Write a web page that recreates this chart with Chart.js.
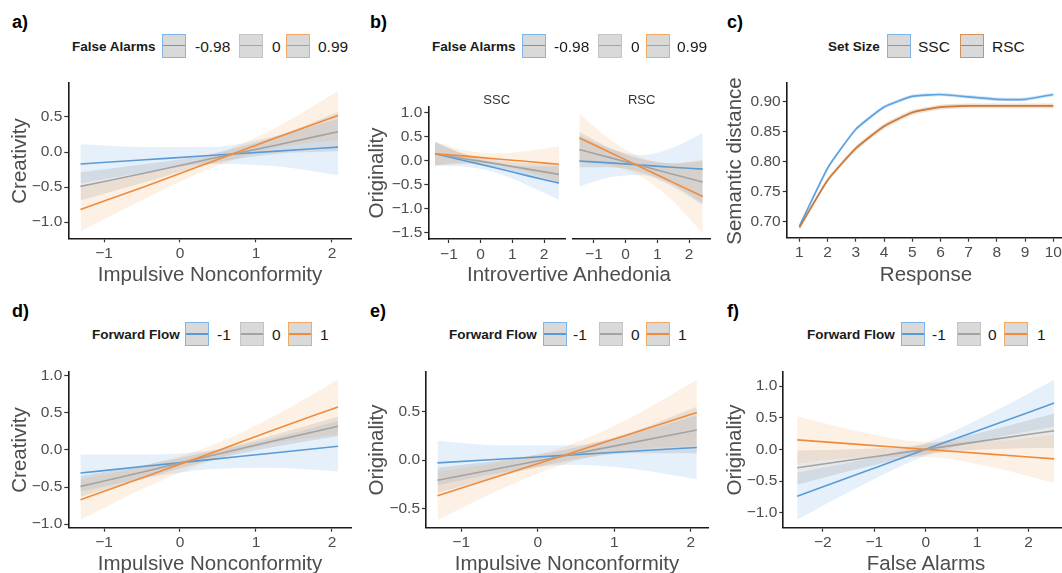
<!DOCTYPE html>
<html>
<head>
<meta charset="utf-8">
<script src="https://cdn.jsdelivr.net/npm/chart.js@4.4.0/dist/chart.umd.min.js"></script>
<style>
  body { margin: 0; background: #fff; }
  #fig { position: relative; width: 1062px; height: 573px; overflow: hidden; font-family: "Liberation Sans", Arial, sans-serif; }
  .cv { position: absolute; }
  .txt { position: absolute; white-space: nowrap; line-height: 1; color: #1a1a1a; }
  .key { position: absolute; width: 24px; height: 24px; box-sizing: border-box; border: 1.5px solid; background: #d9d9d9; }
  .keyline { position: absolute; left: 0; right: 0; top: 50%; height: 1.6px; margin-top: -0.8px; }
</style>
</head>
<body>
<div id="fig"></div>
<script>
// ---- donnees ----
const M = "\u2212";

// a) Creativity ~ Impulsive Nonconformity x False Alarms
const aX = [-1.31, -0.46, 0.39, 1.23, 2.08];
const aBlueFit = [-0.17, -0.11, -0.05, 0.01, 0.07];
const aBlueLo = [-0.45, -0.29, -0.17, -0.2, -0.33];
const aBlueHi = [0.11, 0.07, 0.07, 0.22, 0.47];
const aGrayFit = [-0.49, -0.3, -0.1, 0.09, 0.29];
const aGrayLo = [-0.69, -0.43, -0.17, -0.03, 0.01];
const aGrayHi = [-0.29, -0.17, -0.03, 0.21, 0.57];
const aOrangeFit = [-0.82, -0.49, -0.15, 0.19, 0.52];
const aOrangeLo = [-1.13, -0.67, -0.24, 0.05, 0.17];
const aOrangeHi = [-0.51, -0.31, -0.06, 0.33, 0.87];

// b) Originality ~ Introvertive Anhedonia, facettes SSC / RSC
const bSscX = [-1.44, -0.46, 0.52, 1.49, 2.47];
const bSscBlueFit = [0.15, 0.0, -0.15, -0.31, -0.46];
const bSscBlueLo = [-0.1, -0.12, -0.25, -0.51, -0.81];
const bSscBlueHi = [0.4, 0.12, -0.05, -0.11, -0.11];
const bSscGrayFit = [0.15, 0.04, -0.06, -0.17, -0.28];
const bSscGrayLo = [-0.09, -0.06, -0.14, -0.29, -0.48];
const bSscGrayHi = [0.39, 0.14, 0.02, -0.05, -0.08];
const bSscOrangeFit = [0.15, 0.1, 0.04, -0.01, -0.07];
const bSscOrangeLo = [-0.1, -0.02, -0.08, -0.23, -0.44];
const bSscOrangeHi = [0.4, 0.22, 0.16, 0.21, 0.3];

const bRscX = [-1.46, -0.49, 0.49, 1.46, 2.43];
const bRscBlueFit = [0.0, -0.04, -0.085, -0.13, -0.17];
const bRscBlueLo = [-0.53, -0.34, -0.29, -0.53, -0.92];
const bRscBlueHi = [0.53, 0.26, 0.12, 0.27, 0.58];
const bRscGrayFit = [0.24, 0.07, -0.1, -0.27, -0.44];
const bRscGrayLo = [-0.13, -0.13, -0.24, -0.49, -0.88];
const bRscGrayHi = [0.61, 0.27, 0.04, -0.05, 0.0];
const bRscOrangeFit = [0.48, 0.175, -0.13, -0.435, -0.74];
const bRscOrangeLo = [-0.03, -0.095, -0.33, -0.815, -1.51];
const bRscOrangeHi = [0.99, 0.445, 0.07, -0.055, 0.03];

// c) Semantic distance ~ Response
const cX = [1, 2, 3, 4, 5, 6, 7, 8, 9, 10];
const cSsc = [0.692, 0.789, 0.854, 0.891, 0.909, 0.912, 0.908, 0.904, 0.904, 0.912];
const cSscLo = [0.689, 0.786, 0.851, 0.888, 0.906, 0.909, 0.905, 0.901, 0.901, 0.909];
const cSscHi = [0.695, 0.792, 0.857, 0.894, 0.912, 0.915, 0.911, 0.907, 0.907, 0.915];
const cRsc = [0.69, 0.769, 0.822, 0.859, 0.882, 0.891, 0.893, 0.893, 0.893, 0.893];
const cRscLo = [0.686, 0.765, 0.818, 0.855, 0.878, 0.887, 0.889, 0.889, 0.889, 0.889];
const cRscHi = [0.694, 0.773, 0.826, 0.863, 0.886, 0.895, 0.897, 0.897, 0.897, 0.897];

// d) Creativity ~ Impulsive Nonconformity x Forward Flow
const dX = [-1.31, -0.46, 0.39, 1.23, 2.08];
const dBlueFit = [-0.31, -0.22, -0.13, -0.04, 0.05];
const dBlueLo = [-0.56, -0.38, -0.26, -0.24, -0.29];
const dBlueHi = [-0.06, -0.06, -0.01, 0.16, 0.39];
const dGrayFit = [-0.49, -0.29, -0.08, 0.12, 0.32];
const dGrayLo = [-0.63, -0.38, -0.14, 0.04, 0.19];
const dGrayHi = [-0.35, -0.2, -0.02, 0.2, 0.45];
const dOrangeFit = [-0.67, -0.36, -0.05, 0.27, 0.58];
const dOrangeLo = [-0.94, -0.51, -0.15, 0.09, 0.21];
const dOrangeHi = [-0.4, -0.21, 0.05, 0.45, 0.95];

// e) Originality ~ Impulsive Nonconformity x Forward Flow
const eX = [-1.31, -0.46, 0.39, 1.23, 2.08];
const eBlueFit = [-0.03, 0.01, 0.05, 0.09, 0.13];
const eBlueLo = [-0.26, -0.13, -0.05, -0.09, -0.2];
const eBlueHi = [0.2, 0.15, 0.15, 0.27, 0.46];
const eGrayFit = [-0.21, -0.08, 0.05, 0.18, 0.31];
const eGrayLo = [-0.34, -0.16, -0.01, 0.07, 0.07];
const eGrayHi = [-0.08, 0.0, 0.11, 0.29, 0.55];
const eOrangeFit = [-0.37, -0.155, 0.06, 0.275, 0.49];
const eOrangeLo = [-0.62, -0.295, -0.03, 0.105, 0.15];
const eOrangeHi = [-0.12, -0.015, 0.15, 0.445, 0.83];

// f) Originality ~ False Alarms x Forward Flow
const fX = [-2.5, -1.25, 0, 1.25, 2.5];
const fBlueFit = [-0.74, -0.37, 0.0, 0.365, 0.73];
const fBlueLo = [-1.11, -0.57, -0.1, 0.165, 0.36];
const fBlueHi = [-0.37, -0.17, 0.1, 0.565, 1.1];
const fGrayFit = [-0.29, -0.145, 0.0, 0.15, 0.295];
const fGrayLo = [-0.56, -0.295, -0.08, 0.0, 0.025];
const fGrayHi = [-0.02, 0.005, 0.08, 0.3, 0.565];
const fOrangeFit = [0.15, 0.075, 0.0, -0.075, -0.15];
const fOrangeLo = [-0.22, -0.125, -0.12, -0.275, -0.53];
const fOrangeHi = [0.52, 0.275, 0.12, 0.125, 0.23];

// graduations
const ticksUnit = [-1, 0, 1, 2];
const labelsUnit = [M + "1", "0", "1", "2"];
const aYTicks = [-1, -0.5, 0, 0.5];
const aYLabels = [M + "1.0", M + "0.5", "0.0", "0.5"];
const bYTicks = [-1.5, -1, -0.5, 0, 0.5, 1];
const bYLabels = [M + "1.5", M + "1.0", M + "0.5", "0.0", "0.5", "1.0"];
const cXTicks = [1, 2, 3, 4, 5, 6, 7, 8, 9, 10];
const cXLabels = ["1", "2", "3", "4", "5", "6", "7", "8", "9", "10"];
const cYTicks = [0.7, 0.75, 0.8, 0.85, 0.9];
const cYLabels = ["0.70", "0.75", "0.80", "0.85", "0.90"];
const dfYTicks = [-1, -0.5, 0, 0.5, 1];
const dfYLabels = [M + "1.0", M + "0.5", "0.0", "0.5", "1.0"];
const eYTicks = [-0.5, 0, 0.5];
const eYLabels = [M + "0.5", "0.0", "0.5"];
const fXTicks = [-2, -1, 0, 1, 2];
const fXLabels = [M + "2", M + "1", "0", "1", "2"];

// legendes
const falseAlarmLevels = ["-0.98", "0", "0.99"];
const forwardFlowLevels = ["-1", "0", "1"];
const setSizeLevels = ["SSC", "RSC"];

// ---- couleurs ----
const BLUE = "#5b9bd5", GRAY = "#a3a3a3", ORANGE = "#ef8b3b";
const BLUE_BAND = "rgba(91,160,222,0.16)";
const GRAY_BAND = "rgba(120,120,120,0.17)";
const ORANGE_BAND = "rgba(242,150,70,0.14)";
const C_BLUE = "#5ca4e2", C_BROWN = "#c9793a";
const KEY_BLUE = "#7cb6ea", KEY_GRAY = "#c4c4c4", KEY_ORANGE = "#f3a964", KEY_BROWN = "#d4915a";
const FONT = '"Liberation Sans", Arial, sans-serif';

const fig = document.getElementById("fig");

function pts(xs, ys) {
  return xs.map((x, i) => ({ x: x, y: ys[i] }));
}

function axe(min, max, ticks, labels, show, size, horizontal) {
  return {
    type: "linear",
    display: show,
    min: min,
    max: max,
    afterBuildTicks: (sc) => { sc.ticks = ticks.map((v) => ({ value: v })); },
    afterFit: (sc) => { if (horizontal) sc.height = size; else sc.width = size; },
    ticks: { callback: (v, i) => labels[i], color: "#4d4d4d", font: { family: FONT, size: 15.5 }, padding: 2, maxRotation: 0, autoSkip: false },
    grid: { drawOnChartArea: false, drawTicks: true, tickLength: 4, tickColor: "#333", tickWidth: 1.2 },
    border: { display: show, color: "#1a1a1a", width: 1.6 }
  };
}

function graphe(g) {
  const showY = g.showY !== false;
  const cx = Math.round(g.L) - 56, cy = Math.round(g.T) - 20;
  const cv = document.createElement("canvas");
  cv.className = "cv";
  cv.width = Math.round(g.R) + 16 - cx;
  cv.height = Math.round(g.B) + 26 - cy;
  cv.style.left = cx + "px";
  cv.style.top = cy + "px";
  fig.appendChild(cv);

  const mode = g.tension ? "default" : "monotone";
  const tension = g.tension || 0;
  const datasets = [];
  g.series.forEach((s) => {
    datasets.push({ data: pts(g.xs, s.hi), borderWidth: 0, borderColor: "transparent", pointRadius: 0, fill: false, order: 2, cubicInterpolationMode: mode, tension: tension });
    datasets.push({ data: pts(g.xs, s.lo), borderWidth: 0, borderColor: "transparent", pointRadius: 0, fill: "-1", backgroundColor: s.band, order: 2, cubicInterpolationMode: mode, tension: tension });
  });
  g.series.forEach((s) => {
    datasets.push({ data: pts(g.xs, s.fit), borderColor: s.color, borderWidth: g.lw || 1.6, pointRadius: 0, fill: false, order: 1, cubicInterpolationMode: mode, tension: tension });
  });

  new Chart(cv, {
    type: "line",
    data: { datasets: datasets },
    options: {
      responsive: false,
      animation: false,
      events: [],
      layout: { padding: { left: 0, top: g.T - cy, right: cv.width - (g.R - cx), bottom: 0 } },
      plugins: { legend: { display: false }, tooltip: { enabled: false } },
      scales: {
        x: axe(g.xmin, g.xmax, g.xticks, g.xlabels, true, cv.height - (g.B - cy), true),
        y: axe(g.ymin, g.ymax, g.yticks, g.ylabels, showY, g.L - cx, false)
      }
    }
  });
}

function texte(t, x, y, css) {
  const d = document.createElement("div");
  d.className = "txt";
  d.textContent = t;
  d.style.left = x + "px";
  d.style.top = y + "px";
  Object.assign(d.style, css || {});
  fig.appendChild(d);
  return d;
}

function titreX(t, x, y) {
  texte(t, x, y, { fontSize: "20.5px", color: "#4d4d4d", transform: "translate(-50%,-50%)" });
}
function titreY(t, x, y) {
  texte(t, x, y, { fontSize: "20.5px", color: "#4d4d4d", transform: "translate(-50%,-50%) rotate(-90deg)" });
}
function lettre(t, x, y) {
  texte(t, x, y, { fontSize: "18px", fontWeight: "bold", color: "#000" });
}

function legende(titre, labels, lignes, bords, y, xTitre, xCles, xLabels) {
  texte(titre, xTitre, y + 1, { fontSize: "13.5px", fontWeight: "bold", transform: "translateY(-50%)" });
  labels.forEach((lab, i) => {
    const k = document.createElement("div");
    k.className = "key";
    k.style.left = xCles[i] + "px";
    k.style.top = (y - 12) + "px";
    k.style.borderColor = bords[i];
    const l = document.createElement("div");
    l.className = "keyline";
    l.style.background = lignes[i];
    k.appendChild(l);
    fig.appendChild(k);
    texte(lab, xLabels[i], y + 1, { fontSize: "15.5px", transform: "translateY(-50%)" });
  });
}

function trois(fitB, loB, hiB, fitG, loG, hiG, fitO, loO, hiO) {
  return [
    { fit: fitO, lo: loO, hi: hiO, color: ORANGE, band: ORANGE_BAND },
    { fit: fitG, lo: loG, hi: hiG, color: GRAY, band: GRAY_BAND },
    { fit: fitB, lo: loB, hi: hiB, color: BLUE, band: BLUE_BAND }
  ];
}

// a)
graphe({ L: 68.3, R: 351.7, T: 83.3, B: 238.3, xmin: -1.47, xmax: 2.26, ymin: -1.23, ymax: 0.98,
  xticks: ticksUnit, xlabels: labelsUnit, yticks: aYTicks, ylabels: aYLabels, xs: aX,
  series: trois(aBlueFit, aBlueLo, aBlueHi, aGrayFit, aGrayLo, aGrayHi, aOrangeFit, aOrangeLo, aOrangeHi) });

// b) SSC
graphe({ L: 428.3, R: 565, T: 106.7, B: 239, xmin: -1.65, xmax: 2.66, ymin: -1.625, ymax: 1.13,
  xticks: ticksUnit, xlabels: labelsUnit, yticks: bYTicks, ylabels: bYLabels, xs: bSscX,
  series: trois(bSscBlueFit, bSscBlueLo, bSscBlueHi, bSscGrayFit, bSscGrayLo, bSscGrayHi, bSscOrangeFit, bSscOrangeLo, bSscOrangeHi) });
// b) RSC
graphe({ L: 573.3, R: 710, T: 106.7, B: 239, xmin: -1.65, xmax: 2.66, ymin: -1.625, ymax: 1.13, showY: false,
  xticks: ticksUnit, xlabels: labelsUnit, yticks: bYTicks, ylabels: bYLabels, xs: bRscX,
  series: trois(bRscBlueFit, bRscBlueLo, bRscBlueHi, bRscGrayFit, bRscGrayLo, bRscGrayHi, bRscOrangeFit, bRscOrangeLo, bRscOrangeHi) });

// c)
graphe({ L: 786.7, R: 1066, T: 83.3, B: 237.7, xmin: 0.55, xmax: 10.45, ymin: 0.673, ymax: 0.9307,
  xticks: cXTicks, xlabels: cXLabels, yticks: cYTicks, ylabels: cYLabels, xs: cX, lw: 1.7, tension: 0.15,
  series: [
    { fit: cRsc, lo: cRscLo, hi: cRscHi, color: C_BROWN, band: "rgba(201,121,58,0.25)" },
    { fit: cSsc, lo: cSscLo, hi: cSscHi, color: C_BLUE, band: "rgba(92,164,226,0.25)" }
  ] });

// d)
graphe({ L: 68.3, R: 351.7, T: 371.7, B: 527.7, xmin: -1.47, xmax: 2.26, ymin: -1.047, ymax: 1.055,
  xticks: ticksUnit, xlabels: labelsUnit, yticks: dfYTicks, ylabels: dfYLabels, xs: dX,
  series: trois(dBlueFit, dBlueLo, dBlueHi, dGrayFit, dGrayLo, dGrayHi, dOrangeFit, dOrangeLo, dOrangeHi) });

// e)
graphe({ L: 426, R: 708.3, T: 371.7, B: 527.7, xmin: -1.46, xmax: 2.23, ymin: -0.7, ymax: 0.913,
  xticks: ticksUnit, xlabels: labelsUnit, yticks: eYTicks, ylabels: eYLabels, xs: eX,
  series: trois(eBlueFit, eBlueLo, eBlueHi, eGrayFit, eGrayLo, eGrayHi, eOrangeFit, eOrangeLo, eOrangeHi) });

// f)
graphe({ L: 783.3, R: 1068.1, T: 371.7, B: 527.7, xmin: -2.77, xmax: 2.77, ymin: -1.237, ymax: 1.226,
  xticks: fXTicks, xlabels: fXLabels, yticks: dfYTicks, ylabels: dfYLabels, xs: fX,
  series: trois(fBlueFit, fBlueLo, fBlueHi, fGrayFit, fGrayLo, fGrayHi, fOrangeFit, fOrangeLo, fOrangeHi) });

// lettres des panneaux
lettre("a)", 12, 13);
lettre("b)", 370, 13);
lettre("c)", 727, 13);
lettre("d)", 12, 302);
lettre("e)", 370, 302);
lettre("f)", 727, 302);

// titres des axes
titreY("Creativity", 19.2, 160.8);
titreX("Impulsive Nonconformity", 210, 274.2);
titreY("Originality", 375.8, 173);
titreX("Introvertive Anhedonia", 569, 274.2);
titreY("Semantic distance", 734.2, 160.5);
titreX("Response", 926, 274.2);
titreY("Creativity", 19.2, 449.7);
titreX("Impulsive Nonconformity", 210, 562.5);
titreY("Originality", 375.8, 449.7);
titreX("Impulsive Nonconformity", 567, 562.5);
titreY("Originality", 734.2, 449.7);
titreX("False Alarms", 926, 562.5);

// bandeaux des facettes
texte("SSC", 496.7, 99, { fontSize: "13px", color: "#333", transform: "translate(-50%,-50%)" });
texte("RSC", 641.7, 99, { fontSize: "13px", color: "#333", transform: "translate(-50%,-50%)" });

// legendes
const lignes3 = [BLUE, GRAY, ORANGE];
const bords3 = [KEY_BLUE, KEY_GRAY, KEY_ORANGE];
legende("False Alarms", falseAlarmLevels, lignes3, bords3, 45.5, 72, [162, 239, 286], [195, 272, 318]);
legende("False Alarms", falseAlarmLevels, lignes3, bords3, 45.5, 432, [522, 598, 646], [554, 631, 677]);
legende("Set Size", setSizeLevels, [C_BLUE, C_BROWN], [KEY_BLUE, KEY_BROWN], 45.5, 828, [887, 960], [918, 992]);
legende("Forward Flow", forwardFlowLevels, lignes3, bords3, 334.2, 92, [185, 240, 288], [217, 272, 320]);
legende("Forward Flow", forwardFlowLevels, lignes3, bords3, 334.2, 449, [543, 599, 646], [573, 631, 678]);
legende("Forward Flow", forwardFlowLevels, lignes3, bords3, 334.2, 807, [901, 957, 1004], [932, 988, 1037]);
</script>
</body>
</html>
